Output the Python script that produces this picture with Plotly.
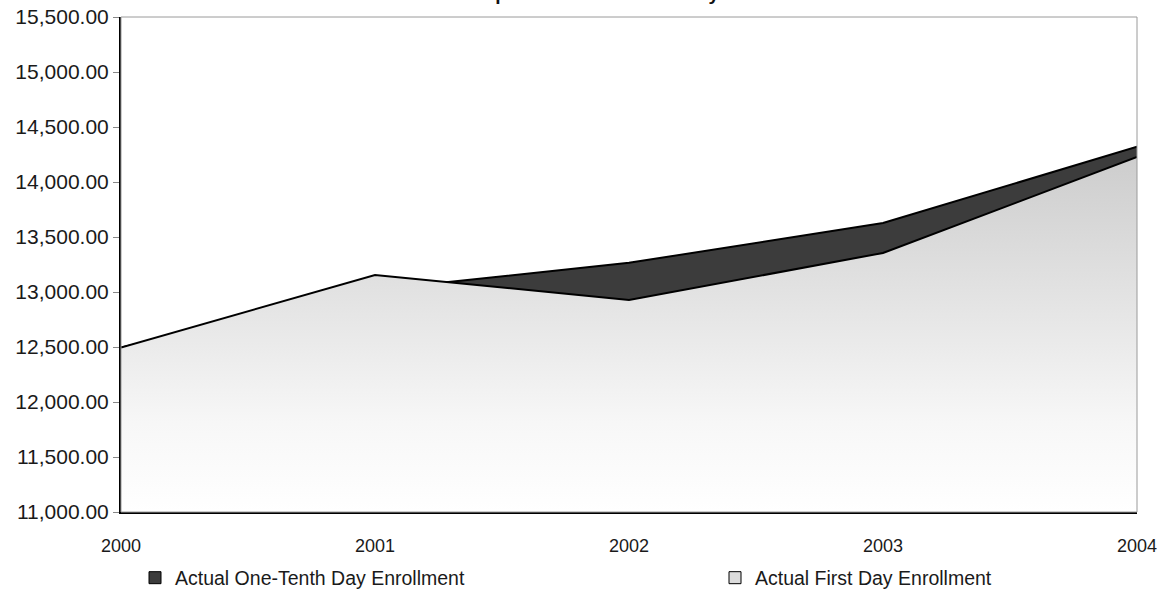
import plotly.graph_objects as go

# ---- data ----
years = [2000, 2001, 2002, 2003, 2004]
year_labels = ["2000", "2001", "2002", "2003", "2004"]
one_tenth_day = [12495, 13020, 13265, 13627, 14320]
first_day = [12495, 13155, 12927, 13355, 14227]
y_ticks = [11000, 11500, 12000, 12500, 13000, 13500, 14000, 14500, 15000, 15500]
series_names = ["Actual One-Tenth Day Enrollment", "Actual First Day Enrollment"]

Y_MIN, Y_MAX = 11000, 15500
FONT = "Liberation Sans, Arial, sans-serif"
DARK = "#3c3c3c"
LIGHT = "#dcdcdc"

fig = go.Figure()

# areas (overlapping, not stacked): dark series behind, light series in front
fig.add_trace(go.Scatter(
    x=years, y=one_tenth_day, name=series_names[0], showlegend=False,
    mode="lines", fill="tozeroy", fillcolor=DARK,
    line=dict(color="#000000", width=2),
))
fig.add_trace(go.Scatter(
    x=years, y=first_day, name=series_names[1], showlegend=False,
    mode="lines", fill="tozeroy",
    fillgradient=dict(type="vertical", start=Y_MIN, stop=max(first_day),
                      colorscale=[[0, "#ffffff"], [0.25, "#f7f7f7"], [1, "#cdcdcd"]]),
    line=dict(color="#000000", width=2),
))

# legend entries (square swatches like the original)
fig.add_trace(go.Scatter(
    x=[None], y=[None], mode="markers", name=series_names[0], legend="legend",
    marker=dict(symbol="square", size=12, color=DARK, line=dict(color="#000000", width=1)),
))
fig.add_trace(go.Scatter(
    x=[None], y=[None], mode="markers", name=series_names[1], legend="legend2",
    marker=dict(symbol="square", size=12, color=LIGHT, line=dict(color="#000000", width=1)),
))

legend_common = dict(orientation="h", xref="container", yref="container",
                     y=1 - 578 / 593, yanchor="middle", xanchor="left",
                     bgcolor="rgba(0,0,0,0)", font=dict(size=19.5, color="#1a1a1a"),
                     itemwidth=30)

fig.update_layout(
    width=1159, height=593,
    margin=dict(l=121, r=22, t=17, b=81),
    paper_bgcolor="white", plot_bgcolor="white",
    font=dict(family=FONT, size=16, color="#1a1a1a"),
    showlegend=True,
    legend=dict(x=135 / 1159, **legend_common),
    legend2=dict(x=715 / 1159, **legend_common),
    xaxis=dict(range=[years[0], years[-1]], tickvals=years, ticktext=year_labels,
               showgrid=False, zeroline=False, showline=True, linecolor="#000000",
               linewidth=2, ticks="", ticklabelstandoff=16, automargin=False,
               ticklabeloverflow="allow",
               tickfont=dict(size=18, color="#1a1a1a")),
    yaxis=dict(range=[Y_MIN, Y_MAX], tickvals=y_ticks, tickformat=",.2f",
               showgrid=False, zeroline=False, showline=True, linecolor="#000000",
               linewidth=2, ticks="outside", ticklen=6, tickcolor="#888888",
               automargin=False, tickfont=dict(size=21, color="#1a1a1a")),
    shapes=[dict(type="rect", xref="paper", yref="paper", x0=0, x1=1, y0=0, y1=1,
                 line=dict(color="#9a9a9a", width=1), layer="above")],
    annotations=[dict(text="<b>Comparison of Enrollment by Academic Year</b>",
                      xref="paper", yref="paper", x=0.527, y=1.0, yshift=11,
                      xanchor="center", yanchor="bottom", showarrow=False,
                      font=dict(size=19, color="#111111"))],
)

fig.write_html("out.html", config={"displayModeBar": False},
               post_script="document.body.style.margin='0';")
